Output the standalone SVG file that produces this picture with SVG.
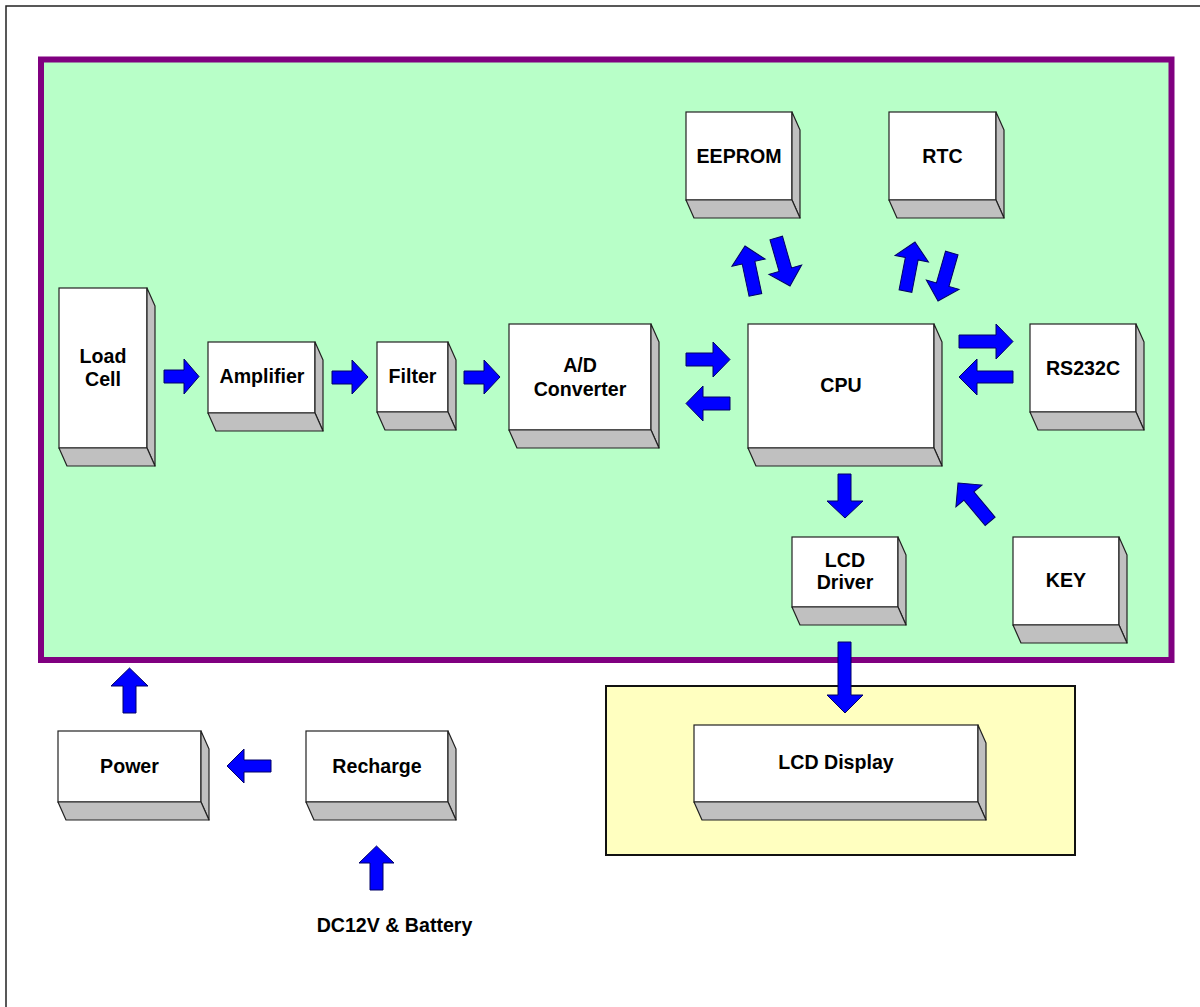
<svg xmlns="http://www.w3.org/2000/svg" xmlns:xlink="http://www.w3.org/1999/xlink" width="1200" height="1007" viewBox="0 0 1200 1007">
<style>
.face{fill:#FFFFFF;stroke:#222;stroke-width:1.2}
.shade{fill:#C0C0C0;stroke:#222;stroke-width:1.2;stroke-linejoin:round}
.lbl{font-family:"Liberation Sans",Arial,sans-serif;font-weight:bold;font-size:19.6px;fill:#000;text-anchor:middle}
.arr{fill:#0000FF;stroke:#000066;stroke-width:1}
</style>
<defs>
<path id="upArrow" d="M0,0 L17,17 L6.5,17 L6.5,50 L-6.5,50 L-6.5,17 L-17,17 Z"/>
</defs>
<rect x="0" y="0" width="1200" height="1007" fill="#FFFFFF"/>
<path d="M6,1007 L6,6 L1200,6" fill="none" stroke="#222" stroke-width="1.5"/>
<rect id="board" x="41" y="59.5" width="1130.5" height="600.5" fill="#B8FFC8" stroke="#800080" stroke-width="6"/>
<rect id="display-panel" x="606" y="686" width="469" height="169" fill="#FFFFC0" stroke="#111" stroke-width="2"/>

<g id="load-cell">
<rect class="face" x="59" y="288" width="88" height="160"/>
<polygon class="shade" points="147,288 155,306 155,466 147,448"/>
<polygon class="shade" points="59,448 147,448 155,466 67,466"/>
<text class="lbl" x="103" y="363">Load</text>
<text class="lbl" x="103" y="386">Cell</text>
</g>
<g id="amplifier">
<rect class="face" x="208" y="342" width="107" height="71"/>
<polygon class="shade" points="315,342 323,360 323,431 315,413"/>
<polygon class="shade" points="208,413 315,413 323,431 216,431"/>
<text class="lbl" x="262" y="383">Amplifier</text>
</g>
<g id="filter">
<rect class="face" x="377" y="342" width="71" height="70"/>
<polygon class="shade" points="448,342 456,360 456,430 448,412"/>
<polygon class="shade" points="377,412 448,412 456,430 385,430"/>
<text class="lbl" x="412.5" y="383">Filter</text>
</g>
<g id="ad-converter">
<rect class="face" x="509" y="324" width="142" height="106"/>
<polygon class="shade" points="651,324 659,342 659,448 651,430"/>
<polygon class="shade" points="509,430 651,430 659,448 517,448"/>
<text class="lbl" x="580" y="372">A/D</text>
<text class="lbl" x="580" y="396">Converter</text>
</g>
<g id="cpu">
<rect class="face" x="748" y="324" width="186" height="124"/>
<polygon class="shade" points="934,324 942,342 942,466 934,448"/>
<polygon class="shade" points="748,448 934,448 942,466 756,466"/>
<text class="lbl" x="841" y="392">CPU</text>
</g>
<g id="eeprom">
<rect class="face" x="686" y="112" width="106" height="88"/>
<polygon class="shade" points="792,112 800,130 800,218 792,200"/>
<polygon class="shade" points="686,200 792,200 800,218 694,218"/>
<text class="lbl" x="739" y="163">EEPROM</text>
</g>
<g id="rtc">
<rect class="face" x="889" y="112" width="107" height="88"/>
<polygon class="shade" points="996,112 1004,130 1004,218 996,200"/>
<polygon class="shade" points="889,200 996,200 1004,218 897,218"/>
<text class="lbl" x="942.5" y="163">RTC</text>
</g>
<g id="rs232c">
<rect class="face" x="1030" y="324" width="106" height="88"/>
<polygon class="shade" points="1136,324 1144,342 1144,430 1136,412"/>
<polygon class="shade" points="1030,412 1136,412 1144,430 1038,430"/>
<text class="lbl" x="1083" y="375">RS232C</text>
</g>
<g id="lcd-driver">
<rect class="face" x="792" y="537" width="106" height="70"/>
<polygon class="shade" points="898,537 906,555 906,625 898,607"/>
<polygon class="shade" points="792,607 898,607 906,625 800,625"/>
<text class="lbl" x="845" y="567">LCD</text>
<text class="lbl" x="845" y="589">Driver</text>
</g>
<g id="key">
<rect class="face" x="1013" y="537" width="106" height="88"/>
<polygon class="shade" points="1119,537 1127,555 1127,643 1119,625"/>
<polygon class="shade" points="1013,625 1119,625 1127,643 1021,643"/>
<text class="lbl" x="1066" y="587">KEY</text>
</g>
<g id="lcd-display">
<rect class="face" x="694" y="725" width="284" height="77"/>
<polygon class="shade" points="978,725 986,743 986,820 978,802"/>
<polygon class="shade" points="694,802 978,802 986,820 702,820"/>
<text class="lbl" x="836" y="769">LCD Display</text>
</g>
<g id="power">
<rect class="face" x="58" y="731" width="143" height="71"/>
<polygon class="shade" points="201,731 209,749 209,820 201,802"/>
<polygon class="shade" points="58,802 201,802 209,820 66,820"/>
<text class="lbl" x="129.5" y="773">Power</text>
</g>
<g id="recharge">
<rect class="face" x="306" y="731" width="142" height="71"/>
<polygon class="shade" points="448,731 456,749 456,820 448,802"/>
<polygon class="shade" points="306,802 448,802 456,820 314,820"/>
<text class="lbl" x="377" y="773">Recharge</text>
</g>
<g id="dc-label">
<text class="lbl" x="394.5" y="932">DC12V &amp; Battery</text>
</g>

<g id="connectors">
<polygon class="arr" points="164,370 184,370 184,359 199,376.5 184,394 184,383 164,383"/>
<polygon class="arr" points="332,371 352,371 352,360 368,377 352,394 352,384 332,384"/>
<polygon class="arr" points="464,371 484,371 484,360 500,377 484,394 484,384 464,384"/>
<polygon class="arr" points="686,353 713,353 713,342 730,359.5 713,377 713,366 686,366"/>
<polygon class="arr" points="730,397 703,397 703,386 686,403.5 703,421 703,410 730,410"/>
<polygon class="arr" points="959,335 996,335 996,324 1013,341.5 996,359 996,348 959,348"/>
<polygon class="arr" points="1013,371 977,371 977,359 959,377 977,395 977,383 1013,383"/>
<polygon class="arr" points="838,474 851,474 851,501 863,501 845,518 827,501 838,501"/>
<polygon class="arr" points="838,642 851,642 851,695 863,695 845,713 827,695 838,695"/>
<polygon class="arr" points="123,713 136,713 136,686 148,686 129.5,668 111,686 123,686"/>
<polygon class="arr" points="271,760 244,760 244,749 227,766 244,783 244,772 271,772"/>
<polygon class="arr" points="370,890 383,890 383,863 394,863 376.5,846 359,863 370,863"/>
<use class="arr" xlink:href="#upArrow" transform="translate(745,246) rotate(-12)"/>
<use class="arr" xlink:href="#upArrow" transform="translate(790,286) rotate(164)"/>
<use class="arr" xlink:href="#upArrow" transform="translate(915,242) rotate(11)"/>
<use class="arr" xlink:href="#upArrow" transform="translate(938,301) rotate(196)"/>
<use class="arr" xlink:href="#upArrow" transform="translate(958,483) rotate(-40)"/>
</g>
</svg>
